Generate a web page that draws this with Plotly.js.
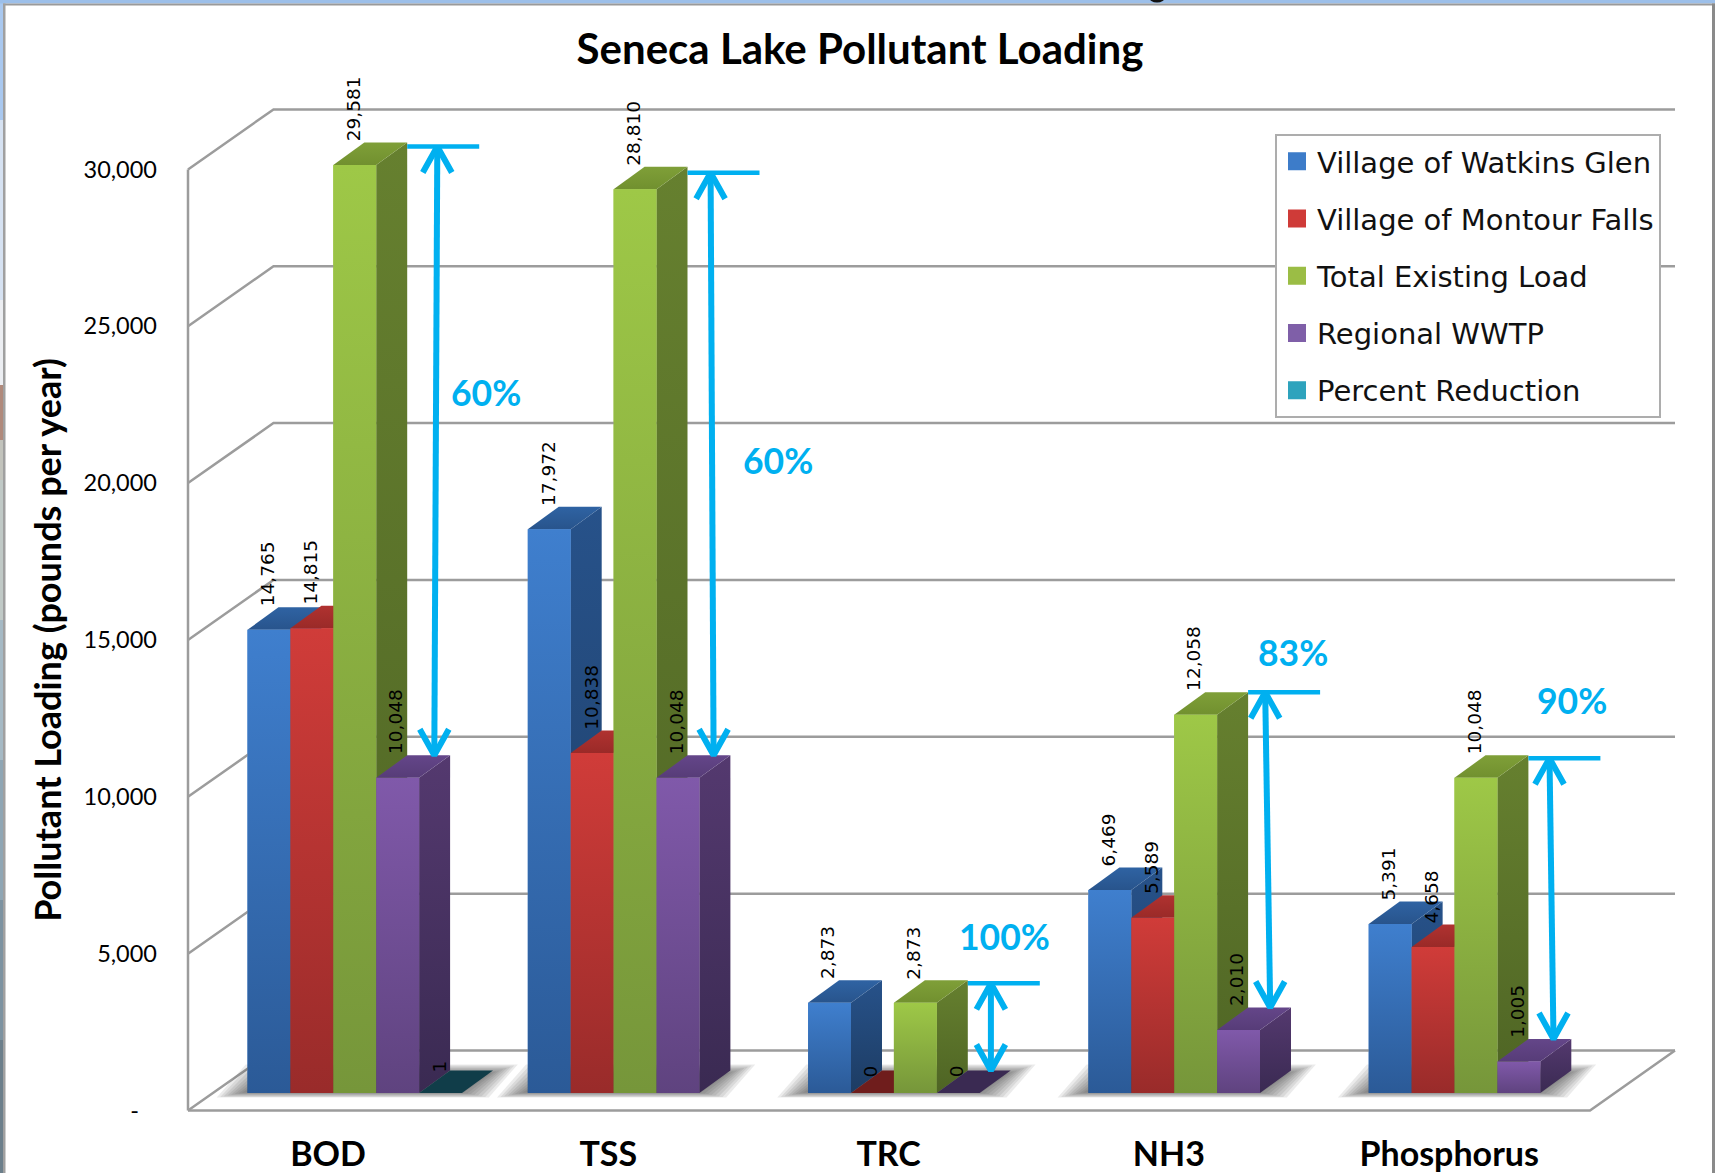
<!DOCTYPE html>
<html><head><meta charset="utf-8">
<script src="https://cdn.plot.ly/plotly-3.0.1.min.js"></script>
<style>html,body{margin:0;padding:0;background:#fff}#c{width:1715px;height:1173px}</style>
</head><body><div id="c"></div>
<script>
// ---- chart data ----
const categories = ['BOD','TSS','TRC','NH3','Phosphorus'];
const watkinsGlen = [14765,17972,2873,6469,5391];
const montourFalls = [14815,10838,0,5589,4658];
const totalExisting = [29581,28810,2873,12058,10048];
const regionalWWTP = [10048,10048,0,2010,1005];
const percentReduction = [1,null,null,null,null];
const reductionLabels = ['60%','60%','100%','83%','90%'];
const yTickVals = [0,5000,10000,15000,20000,25000,30000];
const yTickText = ['-\u00a0\u00a0\u00a0','5,000','10,000','15,000','20,000','25,000','30,000'];
const seriesNames = ['Village of Watkins Glen','Village of Montour Falls','Total Existing Load','Regional WWTP','Percent Reduction'];

// ---- styling ----
const seriesValues = [watkinsGlen,montourFalls,totalExisting,regionalWWTP,percentReduction];
const styles = [
 {front:['#3f7fce','#2b5a97'],side:['#27528a','#1d3c63'],top:['#2f63a3','#28548c'],leg:'#3d7cc9'},
 {front:['#d03c39','#992b2a'],side:['#a02c2a','#6f1d1c'],top:['#b03230','#9a2a28'],leg:'#cf3b38'},
 {front:['#9ec847','#76963a'],side:['#66802f','#4e6424'],top:['#7f9f38','#71902f'],leg:'#9bbd45'},
 {front:['#8059aa','#5f437f'],side:['#54396f','#3a2a52'],top:['#644689','#573c78'],leg:'#7f5fa8'},
 {front:['#1d6478','#17505f'],side:['#17505f','#103d49'],top:['#195666','#174f5e'],leg:'#2ea3bd'}
];
const CYAN='#00b0f0', GRID='#9c9c9c';
const FONT='Lato, sans-serif', LABELFONT='"DejaVu Sans", sans-serif';

// ---- pixel frame of the projection ----
const PLOT={l:160,r:1690,t:107,b:1173};
const XC=328, XU=280.3, Y0=1110.5, YU=0.03137;
const X=p=>(p-XC)/XU, Y=p=>(Y0-p)/YU;
const dxp=px=>px/XU, dyp=px=>px/YU;
const barW=dxp(42.9), barStart=dxp(-80.5), base=dyp(17.5), depthX=dxp(31), depthY=dyp(22.5);
const wallX0=X(188), wallDX=dxp(85.5), wallDY=dyp(60), wallX1=X(1675);

const traces=[];
// walls and floor
(function(){
  const xs=[],ys=[];
  yTickVals.forEach(v=>{
    xs.push(wallX0,wallX0+wallDX,wallX1,null);
    ys.push(v,v+wallDY,v+wallDY,null);
  });
  xs.push(wallX0,wallX0,null); ys.push(0,30000,null);
  xs.push(wallX0,X(1590),wallX1,null); ys.push(0,0,wallDY,null);
  traces.push({type:'scatter',mode:'lines',x:xs,y:ys,line:{color:GRID,width:2.5},hoverinfo:'skip',showlegend:false});
})();
// floor shadows: nested soft parallelograms
categories.forEach((c,i)=>{
  let last=0; seriesValues.forEach((s,k)=>{ if(s[i]!==null) last=k; });
  const L=XC+i*XU-80.5, R=L+(last+1)*42.9;
  for(let e=0;e<9;e++){
    const g=e*3.6, f=1092+e*0.7, b=1074-e*1.2;
    traces.push({type:'scatter',mode:'lines',fill:'toself',line:{width:0},fillcolor:'rgba(60,60,60,0.10)',
      x:[X(L-2-g),X(R-2+g),X(R+27+g),X(L+27-g),X(L-2-g)],
      y:[Y(f),Y(f),Y(b),Y(b),Y(f)],
      hoverinfo:'skip',showlegend:false});
  }
});
// real bars, through the library's bar scale
seriesValues.forEach((vals,k)=>{
  traces.push({type:'bar',name:seriesNames[k],x:categories.map((c,i)=>i+barStart+(k+0.5)*barW),y:vals,base:base,width:barW,
    marker:{color:styles[k].front[0],line:{width:0}},hoverinfo:'skip',showlegend:false});
});
// 3-D faces, painted from the back forward
function poly(xs,ys,cols){
  return {type:'scatter',mode:'lines',x:xs.concat(xs[0]),y:ys.concat(ys[0]),fill:'toself',line:{width:0},
    fillgradient:{type:'vertical',colorscale:[[0,cols[1]],[1,cols[0]]]},hoverinfo:'skip',showlegend:false};
}
categories.forEach((c,i)=>{
  seriesValues.forEach((vals,k)=>{
    const v=vals[i]; if(v===null) return;
    const x0=i+barStart+k*barW, x1=x0+barW, t=base+v;
    if(v>1) traces.push(poly([x1,x1+depthX,x1+depthX,x1],[base,base+depthY,t+depthY,t],styles[k].side));
    const topCols=v<=1?[styles[k].side[1],styles[k].side[1]]:styles[k].top;
    traces.push(poly([x0,x1,x1+depthX,x0+depthX],[t,t,t+depthY,t+depthY],topCols));
    if(v>1) traces.push(poly([x0,x1,x1,x0],[base,base,t,t],styles[k].front));
  });
});
// reduction brackets and double arrows
const arrowTopOffset=[104,97,97,91,95], arrowBotOffset=[101,100,97,96,99], bracketDrop=[4,6,3,0,3];
categories.forEach((c,i)=>{
  const gx=i+barStart+2*barW;
  const topV=base+totalExisting[i]+depthY-dyp(bracketDrop[i]);
  const botV=base+regionalWWTP[i]+depthY;
  const bx0=gx+barW+depthX;
  traces.push({type:'scatter',mode:'lines',x:[bx0,bx0+dxp(72)],y:[topV,topV],line:{color:CYAN,width:4.5},hoverinfo:'skip',showlegend:false});
  const ax=gx+dxp(arrowTopOffset[i]), bx=gx+dxp(arrowBotOffset[i]);
  const wx=dxp(14.5), wy=dyp(26);
  traces.push({type:'scatter',mode:'lines',
    x:[ax,bx,null,ax-wx,ax,ax+wx,null,bx-wx,bx,bx+wx],
    y:[topV,botV,null,topV-wy,topV,topV-wy,null,botV+wy,botV,botV+wy],
    line:{color:CYAN,width:6},hoverinfo:'skip',showlegend:false});
});
// legend entries
seriesNames.forEach((n,k)=>{
  traces.push({type:'scatter',mode:'markers',name:n,x:[null],y:[null],legendgroup:'g'+k,
    marker:{symbol:'square',size:16,color:styles[k].leg,line:{width:2,color:styles[k].leg}},hoverinfo:'skip'});
});

// annotations
const annotations=[];
categories.forEach((c,i)=>{
  seriesValues.forEach((vals,k)=>{
    const v=vals[i]; if(v===null) return;
    annotations.push({x:i+barStart+(k+0.5)*barW-dxp(1.5),y:base+v+depthY,xref:'x',yref:'y',
      text:v.toLocaleString('en-US'),textangle:-90,showarrow:false,xanchor:'center',yanchor:'bottom',
      yshift:v===0?-8:(v===1?-3:0),borderpad:0,font:{family:LABELFONT,size:18.5,color:'#000'}});
  });
});
const pctPos=[[486,392],[778,460],[1004,936],[1293,652],[1572,700]];
reductionLabels.forEach((t,i)=>{
  annotations.push({x:X(pctPos[i][0]),y:Y(pctPos[i][1]),xref:'x',yref:'y',text:'<b>'+t+'</b>',showarrow:false,
    xanchor:'center',yanchor:'middle',font:{family:FONT,size:35.5,color:CYAN}});
});

// window frame around the picture
const W=PLOT.r-PLOT.l, H=PLOT.b-PLOT.t;
const fx=p=>(p-PLOT.l)/W, fy=p=>(PLOT.b-p)/H;
const rect=(x0,y0,x1,y1,c)=>({type:'rect',xref:'paper',yref:'paper',x0:fx(x0),x1:fx(x1),y0:fy(y0),y1:fy(y1),fillcolor:c,line:{width:0},layer:'above'});
const leftStrip=[[0,120,'#a9c8ef'],[120,300,'#d6e2f2'],[300,385,'#eceef2'],[385,440,'#b08a7c'],[440,480,'#c2c3bc'],[480,620,'#c0c9c6'],[620,760,'#a5b9c4'],[760,900,'#8fa6b4'],[900,1040,'#7d93a1'],[1040,1173,'#6c7f8b']];
const shapes=leftStrip.map(s=>rect(0,s[0],3,s[1],s[2]));
shapes.push(rect(0,0,1715,3.5,'#9cbfe9'));
shapes.push(rect(3,3.5,1715,5.5,'#9a9a9a'));
shapes.push(rect(3,3.5,5.5,1173,'#a0a0a0'));
shapes.push(rect(1712,3.5,1715,1173,'#8a8a8a'));
shapes.push({type:'circle',xref:'paper',yref:'paper',x0:fx(1149),x1:fx(1165),y0:fy(-8),y1:fy(2.5),fillcolor:'#111',line:{width:0},layer:'above'});

const layout={
  width:1715,height:1173,paper_bgcolor:'#fff',plot_bgcolor:'rgba(0,0,0,0)',
  margin:{l:PLOT.l,r:1715-PLOT.r,t:PLOT.t,b:1173-PLOT.b,pad:0,autoexpand:false},
  title:{text:'<b>Seneca Lake Pollutant Loading</b>',x:860/1715,xanchor:'center',y:1-49/1173,yanchor:'middle',font:{family:FONT,size:42,color:'#000'}},
  barmode:'overlay',hovermode:false,
  xaxis:{range:[X(PLOT.l),X(PLOT.r)],tickmode:'array',tickvals:categories.map((c,i)=>i),ticktext:categories.map(c=>'<b>'+c+'</b>'),
    tickfont:{family:FONT,size:34,color:'#000'},showgrid:false,zeroline:false,showline:false,ticks:'',anchor:'free',position:(PLOT.b-1131)/H,automargin:false},
  yaxis:{range:[Y(PLOT.b),Y(PLOT.t)],tickmode:'array',tickvals:yTickVals,ticktext:yTickText,tickfont:{family:FONT,size:23.5,color:'#000'},
    showgrid:false,zeroline:false,showline:false,ticks:'',automargin:false,ticklabelstandoff:2,
    title:{text:'<b>Pollutant Loading (pounds per year)</b>',standoff:10,font:{family:FONT,size:36,color:'#000'}}},
  legend:{x:fx(1275),xanchor:'left',y:fy(134),yanchor:'top',bgcolor:'#fff',bordercolor:'#adadad',borderwidth:2,entrywidth:342,entrywidthmode:'pixels',
    font:{family:LABELFONT,size:29,color:'#111'},tracegroupgap:16.5,traceorder:'grouped',itemsizing:'trace',itemclick:false},
  annotations:annotations,shapes:shapes
};
Plotly.newPlot('c',traces,layout,{staticPlot:true,displayModeBar:false});
</script></body></html>
